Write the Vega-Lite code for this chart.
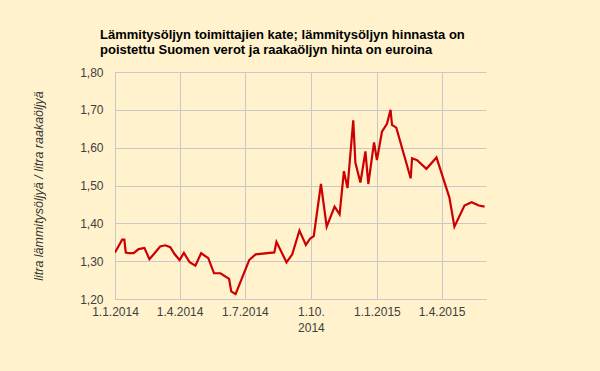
{
  "$schema": "https://vega.github.io/schema/vega-lite/v6.json",
  "autosize": {"type": "none"},
  "width": 371,
  "height": 227,
  "padding": {"left": 115, "top": 72, "right": 114, "bottom": 72},
  "background": "#FFF2CC",
  "title": {
    "text": ["Lämmitysöljyn toimittajien kate; lämmitysöljyn hinnasta on", "poistettu Suomen verot ja raakaöljyn hinta on euroina"],
    "font": "Liberation Sans Narrow, Arial Narrow, Liberation Sans",
    "fontSize": 13,
    "fontWeight": "bold",
    "color": "#000000",
    "anchor": "start",
    "frame": "group",
    "dx": -15,
    "lineHeight": 15,
    "offset": 9
  },
  "data": {
    "values": [
      {"pvm": "2014-01-01", "kate": 1.323},
      {"pvm": "2014-01-11", "kate": 1.357},
      {"pvm": "2014-01-14", "kate": 1.357},
      {"pvm": "2014-01-16", "kate": 1.323},
      {"pvm": "2014-01-21", "kate": 1.321},
      {"pvm": "2014-01-27", "kate": 1.321},
      {"pvm": "2014-02-03", "kate": 1.332},
      {"pvm": "2014-02-11", "kate": 1.335},
      {"pvm": "2014-02-18", "kate": 1.305},
      {"pvm": "2014-02-26", "kate": 1.323},
      {"pvm": "2014-03-05", "kate": 1.339},
      {"pvm": "2014-03-12", "kate": 1.342},
      {"pvm": "2014-03-19", "kate": 1.337},
      {"pvm": "2014-03-25", "kate": 1.319},
      {"pvm": "2014-04-01", "kate": 1.303},
      {"pvm": "2014-04-07", "kate": 1.322},
      {"pvm": "2014-04-15", "kate": 1.297},
      {"pvm": "2014-04-23", "kate": 1.288},
      {"pvm": "2014-05-01", "kate": 1.321},
      {"pvm": "2014-05-11", "kate": 1.308},
      {"pvm": "2014-05-19", "kate": 1.268},
      {"pvm": "2014-05-28", "kate": 1.268},
      {"pvm": "2014-06-09", "kate": 1.253},
      {"pvm": "2014-06-12", "kate": 1.220},
      {"pvm": "2014-06-18", "kate": 1.213},
      {"pvm": "2014-07-07", "kate": 1.303},
      {"pvm": "2014-07-16", "kate": 1.318},
      {"pvm": "2014-08-11", "kate": 1.323},
      {"pvm": "2014-08-14", "kate": 1.351},
      {"pvm": "2014-08-28", "kate": 1.297},
      {"pvm": "2014-09-05", "kate": 1.318},
      {"pvm": "2014-09-15", "kate": 1.381},
      {"pvm": "2014-09-24", "kate": 1.343},
      {"pvm": "2014-09-30", "kate": 1.360},
      {"pvm": "2014-10-05", "kate": 1.366},
      {"pvm": "2014-10-15", "kate": 1.504},
      {"pvm": "2014-10-23", "kate": 1.391},
      {"pvm": "2014-11-03", "kate": 1.444},
      {"pvm": "2014-11-10", "kate": 1.424},
      {"pvm": "2014-11-16", "kate": 1.538},
      {"pvm": "2014-11-21", "kate": 1.493},
      {"pvm": "2014-11-29", "kate": 1.672},
      {"pvm": "2014-12-02", "kate": 1.560},
      {"pvm": "2014-12-09", "kate": 1.508},
      {"pvm": "2014-12-16", "kate": 1.590},
      {"pvm": "2014-12-20", "kate": 1.504},
      {"pvm": "2014-12-28", "kate": 1.614},
      {"pvm": "2015-01-01", "kate": 1.567},
      {"pvm": "2015-01-08", "kate": 1.642},
      {"pvm": "2015-01-15", "kate": 1.663},
      {"pvm": "2015-01-20", "kate": 1.700},
      {"pvm": "2015-01-22", "kate": 1.660},
      {"pvm": "2015-01-28", "kate": 1.653},
      {"pvm": "2015-02-17", "kate": 1.519},
      {"pvm": "2015-02-19", "kate": 1.572},
      {"pvm": "2015-02-26", "kate": 1.567},
      {"pvm": "2015-03-11", "kate": 1.544},
      {"pvm": "2015-03-25", "kate": 1.574},
      {"pvm": "2015-04-12", "kate": 1.468},
      {"pvm": "2015-04-19", "kate": 1.391},
      {"pvm": "2015-05-03", "kate": 1.447},
      {"pvm": "2015-05-13", "kate": 1.456},
      {"pvm": "2015-05-23", "kate": 1.447},
      {"pvm": "2015-05-31", "kate": 1.444}
    ]
  },
  "mark": {"type": "line", "color": "#CC0000", "strokeWidth": 2.2, "interpolate": "linear", "clip": true},
  "encoding": {
    "x": {
      "field": "pvm",
      "type": "temporal",
      "scale": {
        "type": "utc",
        "domain": [
          {"year": 2014, "month": 1, "date": 1, "utc": true},
          {"year": 2015, "month": 6, "date": 2, "utc": true}
        ]
      },
      "axis": {
        "title": null,
        "values": [
          {"year": 2014, "month": 1, "date": 1, "utc": true},
          {"year": 2014, "month": 4, "date": 1, "utc": true},
          {"year": 2014, "month": 7, "date": 1, "utc": true},
          {"year": 2014, "month": 10, "date": 1, "utc": true},
          {"year": 2015, "month": 1, "date": 1, "utc": true},
          {"year": 2015, "month": 4, "date": 1, "utc": true}
        ],
        "labelExpr": "utcmonth(datum.value) == 9 ? ['1.10.', '' + utcyear(datum.value)] : utcdate(datum.value) + '.' + (utcmonth(datum.value) + 1) + '.' + utcyear(datum.value)",
        "labelLineHeight": 16,
        "labelPadding": 7,
        "labelFlush": false,
        "labelOverlap": false,
        "ticks": false,
        "grid": true
      }
    },
    "y": {
      "field": "kate",
      "type": "quantitative",
      "scale": {"domain": [1.2, 1.8], "nice": false, "zero": false},
      "axis": {
        "title": "litra lämmitysöljyä / litra raakaöljyä",
        "values": [1.2, 1.3, 1.4, 1.5, 1.6, 1.7, 1.8],
        "labelExpr": "replace(format(datum.value, '.2f'), '.', ',')",
        "labelPadding": 12,
        "ticks": false,
        "grid": true,
        "titlePadding": 34,
        "titleFontStyle": "italic",
        "titleFontWeight": "normal",
        "titleFontSize": 12.5,
        "titleColor": "#333333",
        "titleFont": "Liberation Sans"
      }
    }
  },
  "config": {
    "view": {"stroke": null},
    "axis": {
      "labelFont": "Liberation Sans",
      "labelFontSize": 12,
      "labelColor": "#404040",
      "gridColor": "#C8C8C8",
      "gridWidth": 1,
      "domainColor": "#C8C8C8",
      "domainWidth": 1
    }
  }
}
